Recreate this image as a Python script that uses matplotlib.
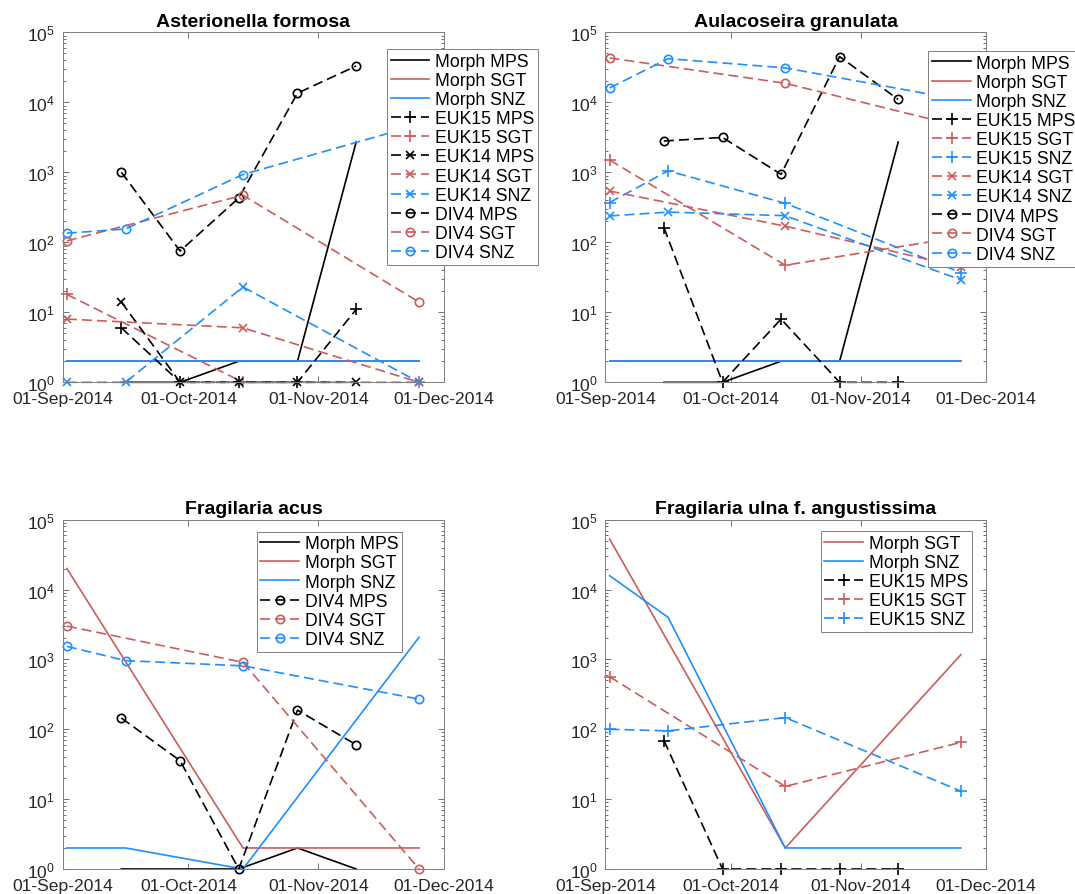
import matplotlib
matplotlib.use('Agg')
import matplotlib.pyplot as plt
from datetime import datetime

plt.rcParams['font.family'] = ['Liberation Sans', 'DejaVu Sans']
plt.rcParams['mathtext.fontset'] = 'custom'
plt.rcParams['mathtext.rm'] = 'Liberation Sans'
plt.rcParams['mathtext.it'] = 'Liberation Sans:italic'
plt.rcParams['mathtext.bf'] = 'Liberation Sans:bold'

# ---------------- data ----------------
dates_mps = ['2014-09-15', '2014-09-29', '2014-10-13', '2014-10-27', '2014-11-10']
dates_site = ['2014-09-02', '2014-09-16', '2014-10-14', '2014-11-25']
xtick_dates = ['2014-09-01', '2014-10-01', '2014-11-01', '2014-12-01']
xtick_labels = ['01-Sep-2014', '01-Oct-2014', '01-Nov-2014', '01-Dec-2014']
ytick_values = [1, 10, 100, 1000, 10000, 100000]

titles = ['Asterionella formosa', 'Aulacoseira granulata',
          'Fragilaria acus', 'Fragilaria ulna f. angustissima']

# Asterionella formosa
af_morph_mps = [1, 1, 2, 2, 2700]
af_morph_sgt = [2, 2, 2, 2]
af_morph_snz = [2, 2, 2, 2]
af_euk15_mps = [6, 1, 1, 1, 11]
af_euk15_sgt = [18, None, 1, 1]
af_euk14_mps = [14, 1, 1, 1, 1]
af_euk14_sgt = [8, None, 6, 1]
af_euk14_snz = [1, 1, 23, 1]
af_div4_mps = [1000, 75, 430, 13500, 33000]
af_div4_sgt = [105, None, 470, 14]
af_div4_snz = [135, 155, 930, 4800]

# Aulacoseira granulata
ag_morph_mps = [1, 1, 2, 2, 2700]
ag_morph_sgt = [2, 2, 2, 2]
ag_morph_snz = [2, 2, 2, 2]
ag_euk15_mps = [162, 1, 8, 1, 1]
ag_euk15_sgt = [1500, None, 47, 120]
ag_euk15_snz = [370, 1050, 360, 37]
ag_euk14_sgt = [540, None, 170, 44]
ag_euk14_snz = [238, 270, 240, 29]
ag_div4_mps = [2800, 3150, 935, 45000, 11000]
ag_div4_sgt = [43000, None, 18700, 4500]
ag_div4_snz = [16000, 42000, 31000, 10800]

# Fragilaria acus
fa_morph_mps = [1, 1, 1, 2, 1]
fa_morph_sgt = [20000, None, 2, 2]
fa_morph_snz = [2, 2, 1, 2080]
fa_div4_mps = [145, 35.5, 1, 188, 60]
fa_div4_sgt = [3000, None, 910, 1]
fa_div4_snz = [1540, 960, 810, 270]

# Fragilaria ulna f. angustissima
fu_morph_sgt = [53000, None, 2, 1170]
fu_morph_snz = [15800, 4000, 2, 2]
fu_euk15_mps = [69, 1, 1, 1, 1]
fu_euk15_sgt = [565, None, 15.2, 65]
fu_euk15_snz = [100, 95, 147, 13]

panel_series = [
    [('Morph MPS', af_morph_mps), ('Morph SGT', af_morph_sgt), ('Morph SNZ', af_morph_snz),
     ('EUK15 MPS', af_euk15_mps), ('EUK15 SGT', af_euk15_sgt), ('EUK14 MPS', af_euk14_mps),
     ('EUK14 SGT', af_euk14_sgt), ('EUK14 SNZ', af_euk14_snz), ('DIV4 MPS', af_div4_mps),
     ('DIV4 SGT', af_div4_sgt), ('DIV4 SNZ', af_div4_snz)],
    [('Morph MPS', ag_morph_mps), ('Morph SGT', ag_morph_sgt), ('Morph SNZ', ag_morph_snz),
     ('EUK15 MPS', ag_euk15_mps), ('EUK15 SGT', ag_euk15_sgt), ('EUK15 SNZ', ag_euk15_snz),
     ('EUK14 SGT', ag_euk14_sgt), ('EUK14 SNZ', ag_euk14_snz), ('DIV4 MPS', ag_div4_mps),
     ('DIV4 SGT', ag_div4_sgt), ('DIV4 SNZ', ag_div4_snz)],
    [('Morph MPS', fa_morph_mps), ('Morph SGT', fa_morph_sgt), ('Morph SNZ', fa_morph_snz),
     ('DIV4 MPS', fa_div4_mps), ('DIV4 SGT', fa_div4_sgt), ('DIV4 SNZ', fa_div4_snz)],
    [('Morph SGT', fu_morph_sgt), ('Morph SNZ', fu_morph_snz), ('EUK15 MPS', fu_euk15_mps),
     ('EUK15 SGT', fu_euk15_sgt), ('EUK15 SNZ', fu_euk15_snz)],
]

# ---------------- styling / layout ----------------
W, H = 1075, 895
site_colors = {'MPS': 'black', 'SGT': '#cd5c5c', 'SNZ': '#1e8fff'}
dash = (0, (6, 3))
method_styles = {
    'Morph': dict(linestyle='-', marker='None'),
    'EUK15': dict(linestyle=dash, marker='+', markersize=8),
    'EUK14': dict(linestyle=dash, marker='x', markersize=6),
    'DIV4': dict(linestyle=dash, marker='o', markersize=6, markerfacecolor='none'),
}

# axes boxes in pixels: left, right, top, bottom
axes_px = [(62.7, 444.2, 33.3, 383.3), (605.4, 986, 33.3, 383.3),
           (62.7, 444.2, 520.7, 870), (605.4, 986, 520.7, 870)]
legend_px = [(386.7, 50), (928.3, 51.7), (256.6, 532.5), (820.6, 532)]

fig = plt.figure(figsize=(W / 100, H / 100), dpi=100)


def to_dt(s):
    return datetime.strptime(s, '%Y-%m-%d')


for i, (l, r, t, b) in enumerate(axes_px):
    ax = fig.add_axes([l / W, 1 - b / H, (r - l) / W, (b - t) / H])
    handles = []
    for label, vals in panel_series[i]:
        method, site = label.split()
        dates = dates_mps if site == 'MPS' else dates_site
        xs = [to_dt(d) for d, v in zip(dates, vals) if v is not None]
        ys = [v for v in vals if v is not None]
        st = method_styles[method]
        h, = ax.plot(xs, ys, color=site_colors[site], linewidth=1.2,
                     markeredgewidth=1.2, label=label, clip_on=False, **st)
        handles.append(h)
    ax.set_yscale('log')
    ax.set_ylim(1, 1e5)
    ax.set_yticks(ytick_values)
    ax.set_xlim(to_dt(xtick_dates[0]), to_dt(xtick_dates[-1]))
    ax.set_xticks([to_dt(d) for d in xtick_dates])
    ax.set_xticklabels(xtick_labels)
    ax.tick_params(which='both', direction='in', top=True, right=True,
                   colors='0.35', labelcolor='0.15', labelsize=12.6, width=0.6)
    ax.tick_params(which='major', length=4)
    ax.tick_params(which='minor', length=2.5)
    ax.tick_params(axis='x', which='minor', bottom=False, top=False)
    ax.tick_params(axis='x', pad=6.5)
    ax.tick_params(axis='y', pad=5.5)
    for sp in ax.spines.values():
        sp.set_color('0.5')
        sp.set_linewidth(0.7)
    ax.set_title(titles[i], fontsize=14, fontweight='bold', pad=4.5)
    lx, ly = legend_px[i]
    leg = ax.legend(handles=handles, loc='upper left',
                    bbox_to_anchor=(lx / W, 1 - ly / H),
                    bbox_transform=fig.transFigure, borderaxespad=0,
                    fontsize=12.7, handlelength=2.2, handletextpad=0.3,
                    labelspacing=0.12, borderpad=0.22, fancybox=False,
                    framealpha=1, edgecolor='0.5')
    leg.get_frame().set_linewidth(0.7)
    leg.set_zorder(10)

fig.savefig('out.png', dpi=100)
